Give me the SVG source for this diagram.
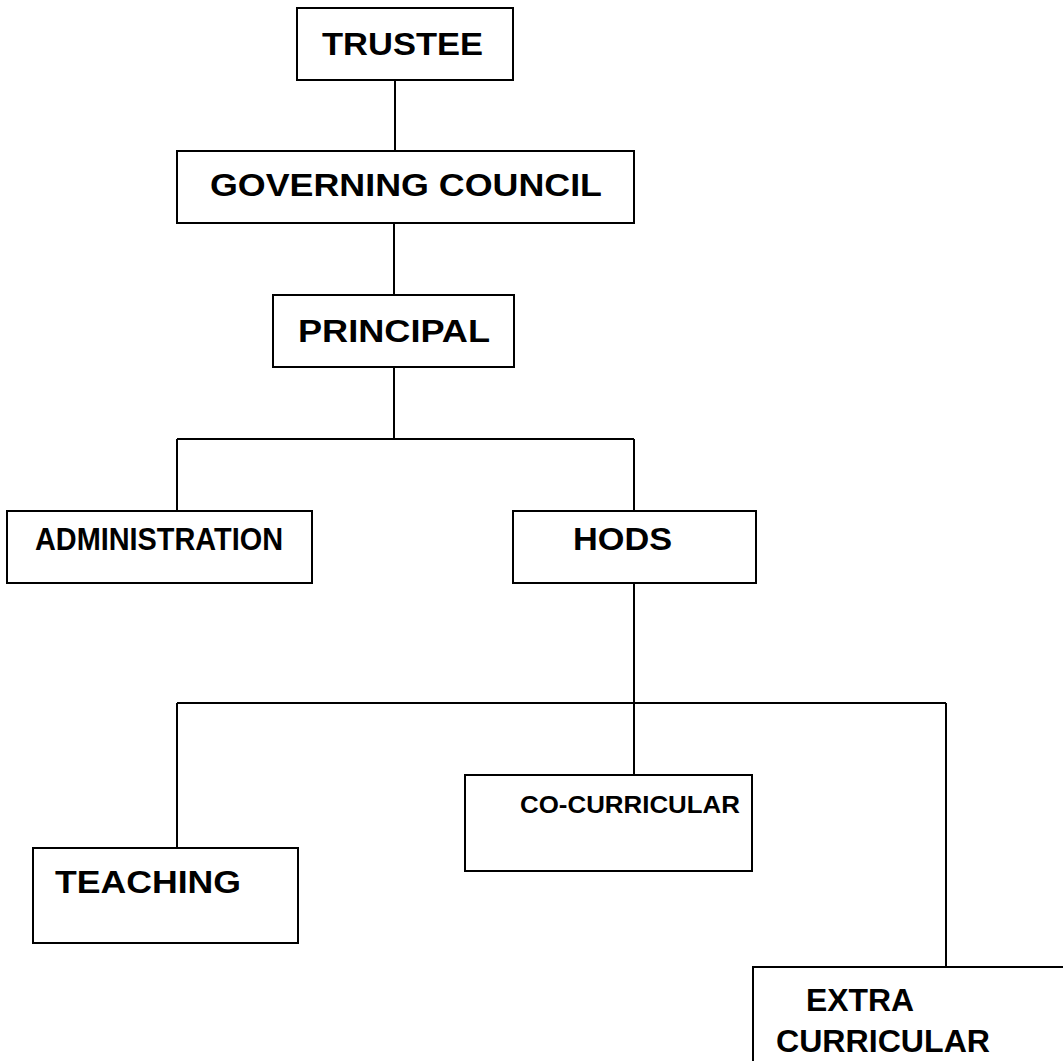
<svg xmlns="http://www.w3.org/2000/svg" width="1063" height="1061" viewBox="0 0 1063 1061">
<style>
.box{fill:#fff;stroke:#000;stroke-width:2}
.lbl{font-family:"Liberation Sans",Arial,sans-serif;font-weight:bold;font-size:32px;fill:#000}
.sm{font-size:23px}
.con{fill:none;stroke:#000;stroke-width:2}
</style>
<rect width="1063" height="1061" fill="#fff"/>
<g id="connectors">
<path class="con" d="M395 80V151"/>
<path class="con" d="M394 223V295"/>
<path class="con" d="M394 367V439M177 439H634M177 439V511M634 439V511"/>
<path class="con" d="M634 583V703M177 703H946M177 703V848M634 703V775M946 703V967"/>
</g>
<g id="trustee"><rect class="box" x="297" y="8" width="216" height="72"/><text class="lbl" x="322" y="55" textLength="161" lengthAdjust="spacingAndGlyphs">TRUSTEE</text></g>
<g id="governing-council"><rect class="box" x="177" y="151" width="457" height="72"/><text class="lbl" x="210" y="196" textLength="392" lengthAdjust="spacingAndGlyphs">GOVERNING COUNCIL</text></g>
<g id="principal"><rect class="box" x="273" y="295" width="241" height="72"/><text class="lbl" x="298" y="342" textLength="192" lengthAdjust="spacingAndGlyphs">PRINCIPAL</text></g>
<g id="administration"><rect class="box" x="7" y="511" width="305" height="72"/><text class="lbl" x="35" y="550" textLength="248" lengthAdjust="spacingAndGlyphs">ADMINISTRATION</text></g>
<g id="hods"><rect class="box" x="513" y="511" width="243" height="72"/><text class="lbl" x="573" y="550" textLength="99" lengthAdjust="spacingAndGlyphs">HODS</text></g>
<g id="teaching"><rect class="box" x="33" y="848" width="265" height="95"/><text class="lbl" x="55" y="893" textLength="186" lengthAdjust="spacingAndGlyphs">TEACHING</text></g>
<g id="co-curricular"><rect class="box" x="465" y="775" width="287" height="96"/><text class="lbl sm" x="520" y="813" textLength="220" lengthAdjust="spacingAndGlyphs">CO-CURRICULAR</text></g>
<g id="extra-curricular"><rect class="box" x="753" y="967" width="330" height="120"/><text class="lbl" x="806" y="1011" textLength="108" lengthAdjust="spacingAndGlyphs">EXTRA</text><text class="lbl" x="776" y="1052" textLength="214" lengthAdjust="spacingAndGlyphs">CURRICULAR</text></g>
</svg>
